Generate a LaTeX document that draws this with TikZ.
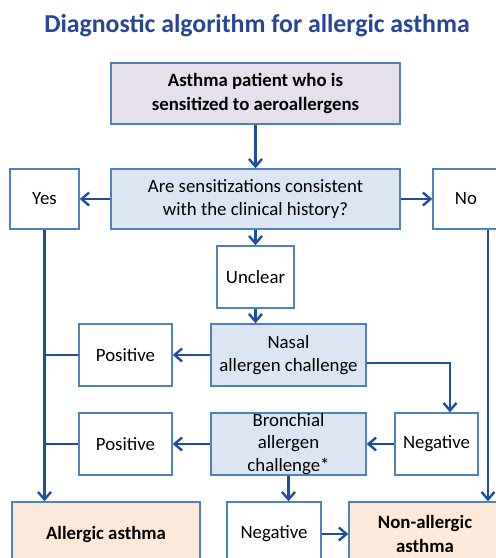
\documentclass[tikz,border=0pt]{standalone}
\usepackage{fontspec}
\setmainfont{Carlito}
\usetikzlibrary{arrows.meta}
\definecolor{titleblue}{HTML}{2A4597}
\definecolor{arrowblue}{HTML}{1F4E9F}
\definecolor{edgeblue}{HTML}{4F81BD}
\definecolor{lavender}{HTML}{E6E0EC}
\definecolor{paleblue}{HTML}{DCE6F2}
\definecolor{peach}{HTML}{FDE9D9}

\begin{document}
\begin{tikzpicture}[x=1pt,y=-1pt,
  >={Straight Barb[length=7.5pt,width=13pt,line width=2.4pt]},
  box/.style={draw=edgeblue,line width=1.5pt,fill=white,inner sep=0pt,align=center,
    font=\fontsize{18.8}{23.5}\selectfont},
  askbox/.style={box,fill=paleblue},
  startbox/.style={box,fill=lavender,font=\fontsize{18.8}{23.5}\selectfont\bfseries},
  endbox/.style={box,fill=peach,font=\fontsize{18.8}{23.5}\selectfont\bfseries},
  arrow/.style={->,draw=arrowblue,line width=2.4pt},
  link/.style={draw=arrowblue,line width=2.4pt}]
\clip (0,0) rectangle (496,558);
\useasboundingbox (0,0) rectangle (496,558);

% title
\node[font=\fontsize{25.8}{30}\selectfont\bfseries,text=titleblue] (title) at (257,26) {Diagnostic algorithm for allergic asthma};

% top of the tree
\node[startbox,minimum width=289,minimum height=61] (patient) at (255.5,93.5) {Asthma patient who is\\sensitized to aeroallergens};
\node[askbox,minimum width=289,minimum height=60] (question) at (255.5,199) {Are sensitizations consistent\\with the clinical history?};
\node[box,minimum width=69,minimum height=60] (yes) at (44.5,199) {Yes};
\node[box,minimum width=110,minimum height=60] (no) at (488,199) {\hspace*{-44pt}No};
\node[box,minimum width=77,minimum height=62] (unclear) at (255.5,277) {Unclear};

% challenges
\node[askbox,minimum width=155,minimum height=62] (nasal) at (288.5,355) {Nasal\\allergen challenge};
\node[box,minimum width=93,minimum height=62] (posN) at (125.5,355) {Positive};
\node[askbox,minimum width=155,minimum height=62,font=\fontsize{18.8}{22.5}\selectfont] (bronch) at (288.5,444) {Bronchial\\allergen\\challenge*};
\node[box,minimum width=93,minimum height=62] (posB) at (125.5,444) {Positive};
\node[box,minimum width=83,minimum height=62] (negN) at (436.5,444) {Negative};

% outcomes
\node[endbox,minimum width=188,minimum height=64] (allergic) at (106,534) {Allergic asthma};
\node[box,minimum width=94,minimum height=64] (negB) at (274,534) {Negative};
\node[endbox,minimum width=152,minimum height=64] (nonallergic) at (425,534) {Non-allergic\\asthma};

% connectors
\draw[arrow] (patient) -- (question);
\draw[arrow] (question) -- (yes);
\draw[arrow] (question) -- (no);
\draw[arrow] (question) -- (unclear);
\draw[arrow] (unclear) -- (unclear |- nasal.north);
\draw[arrow] (nasal) -- (posN);
\draw[arrow] ([yshift=-8pt]nasal.east) -| ([xshift=13.5pt]negN.north);
\draw[arrow] (negN) -- (bronch);
\draw[arrow] (bronch) -- (posB);
\draw[arrow] (bronch.south) -- (bronch.south |- negB.north);
\draw[arrow] (negB) -- (nonallergic);
\draw[arrow] (yes) -- (yes |- allergic.north);
\draw[arrow] (no) -- (no |- nonallergic.north);
\draw[link] (posN.west) -- (posN.west -| yes);
\draw[link] (posB.west) -- (posB.west -| yes);
\end{tikzpicture}
\end{document}
